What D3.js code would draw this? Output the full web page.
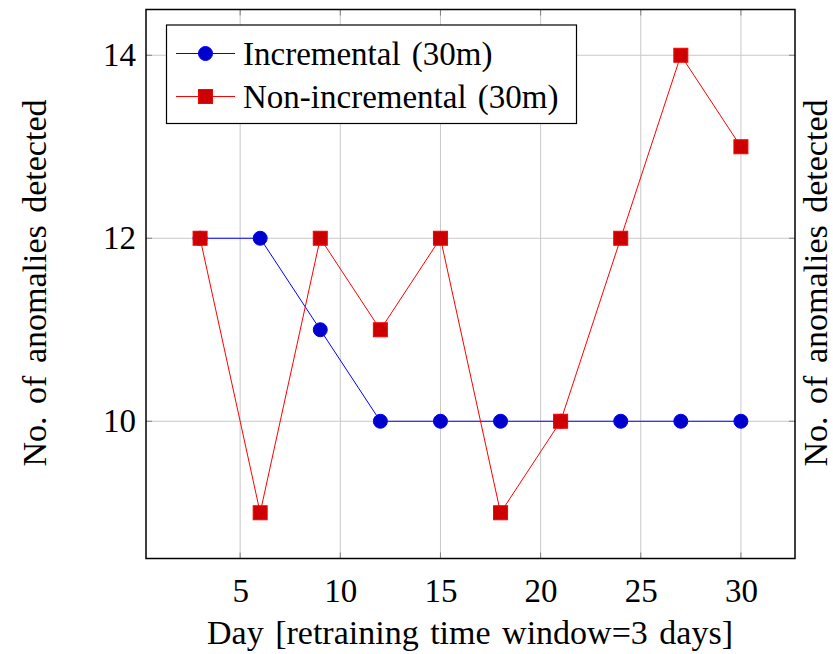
<!DOCTYPE html>
<html>
<head>
<meta charset="utf-8">
<script src="https://cdn.jsdelivr.net/npm/d3@7/dist/d3.min.js"></script>
<style>
  body { margin: 0; background: #fff; }
  text { font-family: "Liberation Serif", "DejaVu Serif", serif; fill: #000; }
</style>
</head>
<body>
<svg id="viz"></svg>
<script>
var width = 833;
var height = 654;

// data
var days = [3, 6, 9, 12, 15, 18, 21, 24, 27, 30];
var incremental = [12, 12, 11, 10, 10, 10, 10, 10, 10, 10];
var nonIncremental = [12, 9, 12, 11, 12, 9, 10, 12, 14, 13];
var xTicks = [5, 10, 15, 20, 25, 30];
var yTicks = [10, 12, 14];
var seriesNames = ["Incremental (30m)", "Non-incremental (30m)"];

// plot box
var boxLeft = 146, boxRight = 795, boxTop = 9.5, boxBottom = 558.5;

var svg = d3.select("#viz")
  .attr("width", width)
  .attr("height", height);

var x = d3.scaleLinear().domain([0.3, 32.7]).range([boxLeft, boxRight]);
var y = d3.scaleLinear().domain([8.5, 14.5]).range([boxBottom, boxTop]);

// grid
var grid = svg.append("g");
grid.selectAll(".gx").data(xTicks).enter().append("line")
  .attr("x1", function(d) { return x(d); })
  .attr("x2", function(d) { return x(d); })
  .attr("y1", boxTop).attr("y2", boxBottom)
  .attr("stroke", "#c8c8c8").attr("stroke-width", 1);
grid.selectAll(".gy").data(yTicks).enter().append("line")
  .attr("y1", function(d) { return y(d); })
  .attr("y2", function(d) { return y(d); })
  .attr("x1", boxLeft).attr("x2", boxRight)
  .attr("stroke", "#c8c8c8").attr("stroke-width", 1);

// inner tick marks
var tk = 6;
var ticks = svg.append("g").attr("stroke", "#808080").attr("stroke-width", 1);
xTicks.forEach(function(d) {
  ticks.append("line").attr("x1", x(d)).attr("x2", x(d)).attr("y1", boxBottom).attr("y2", boxBottom - tk);
  ticks.append("line").attr("x1", x(d)).attr("x2", x(d)).attr("y1", boxTop).attr("y2", boxTop + tk);
});
yTicks.forEach(function(d) {
  ticks.append("line").attr("y1", y(d)).attr("y2", y(d)).attr("x1", boxLeft).attr("x2", boxLeft + tk);
  ticks.append("line").attr("y1", y(d)).attr("y2", y(d)).attr("x1", boxRight).attr("x2", boxRight - tk);
});

// axes labels
var xAxis = d3.axisBottom(x).tickValues(xTicks).tickFormat(d3.format("d")).tickSize(0).tickPadding(20);
svg.append("g")
  .attr("transform", "translate(0," + boxBottom + ")")
  .call(xAxis)
  .call(function(g) { g.select(".domain").remove(); })
  .selectAll("text")
  .style("font-family", "'Liberation Serif', serif")
  .style("font-size", "33px")
  .attr("fill", "#000");

var yAxis = d3.axisLeft(y).tickValues(yTicks).tickFormat(d3.format("d")).tickSize(0).tickPadding(10);
svg.append("g")
  .attr("transform", "translate(" + boxLeft + ",0)")
  .call(yAxis)
  .call(function(g) { g.select(".domain").remove(); })
  .selectAll("text")
  .style("font-family", "'Liberation Serif', serif")
  .style("font-size", "33px")
  .attr("fill", "#000");

// frame
svg.append("rect")
  .attr("x", boxLeft).attr("y", boxTop)
  .attr("width", boxRight - boxLeft).attr("height", boxBottom - boxTop)
  .attr("fill", "none").attr("stroke", "#000").attr("stroke-width", 1.5);

// titles
svg.append("text")
  .attr("x", 470).attr("y", 644)
  .attr("text-anchor", "middle")
  .style("font-size", "34px")
  .style("word-spacing", "3px")
  .text("Day [retraining time window=3 days]");

svg.append("text")
  .attr("transform", "translate(46,283) rotate(-90)")
  .attr("text-anchor", "middle")
  .style("font-size", "34px")
  .style("word-spacing", "4px")
  .text("No. of anomalies detected");

svg.append("text")
  .attr("transform", "translate(827,283) rotate(-90)")
  .attr("text-anchor", "middle")
  .style("font-size", "34px")
  .style("word-spacing", "4px")
  .text("No. of anomalies detected");

// lines
var line = d3.line()
  .x(function(d) { return x(d[0]); })
  .y(function(d) { return y(d[1]); });

var incData = d3.zip(days, incremental);
var nonData = d3.zip(days, nonIncremental);

svg.append("path").datum(incData)
  .attr("d", line).attr("fill", "none")
  .attr("stroke", "#0000ff").attr("stroke-width", 1);
svg.selectAll(".inc").data(incData).enter().append("circle")
  .attr("cx", function(d) { return x(d[0]); })
  .attr("cy", function(d) { return y(d[1]); })
  .attr("r", 7)
  .attr("fill", "#0000cc").attr("stroke", "#0000ff").attr("stroke-width", 1);

svg.append("path").datum(nonData)
  .attr("d", line).attr("fill", "none")
  .attr("stroke", "#ff0000").attr("stroke-width", 1);
svg.selectAll(".non").data(nonData).enter().append("rect")
  .attr("x", function(d) { return x(d[0]) - 7; })
  .attr("y", function(d) { return y(d[1]) - 7; })
  .attr("width", 14).attr("height", 14)
  .attr("fill", "#cc0000").attr("stroke", "#ff0000").attr("stroke-width", 1);

// legend
var legend = svg.append("g");
legend.append("rect")
  .attr("x", 166.5).attr("y", 25)
  .attr("width", 410).attr("height", 98.5)
  .attr("fill", "#fff").attr("stroke", "#000").attr("stroke-width", 1.2);

var rows = [53.5, 96.5];
var colors = [["#0000ff", "#0000cc"], ["#ff0000", "#cc0000"]];
rows.forEach(function(ry, i) {
  legend.append("line")
    .attr("x1", 176).attr("x2", 235).attr("y1", ry).attr("y2", ry)
    .attr("stroke", colors[i][0]).attr("stroke-width", 1);
  if (i === 0) {
    legend.append("circle").attr("cx", 205.5).attr("cy", ry).attr("r", 7)
      .attr("fill", colors[i][1]).attr("stroke", colors[i][0]);
  } else {
    legend.append("rect").attr("x", 198.5).attr("y", ry - 7)
      .attr("width", 14).attr("height", 14)
      .attr("fill", colors[i][1]).attr("stroke", colors[i][0]);
  }
  legend.append("text")
    .attr("x", 243).attr("y", ry + 11)
    .style("font-size", "33px")
    .style("word-spacing", "3px")
    .text(seriesNames[i]);
});
</script>
</body>
</html>
